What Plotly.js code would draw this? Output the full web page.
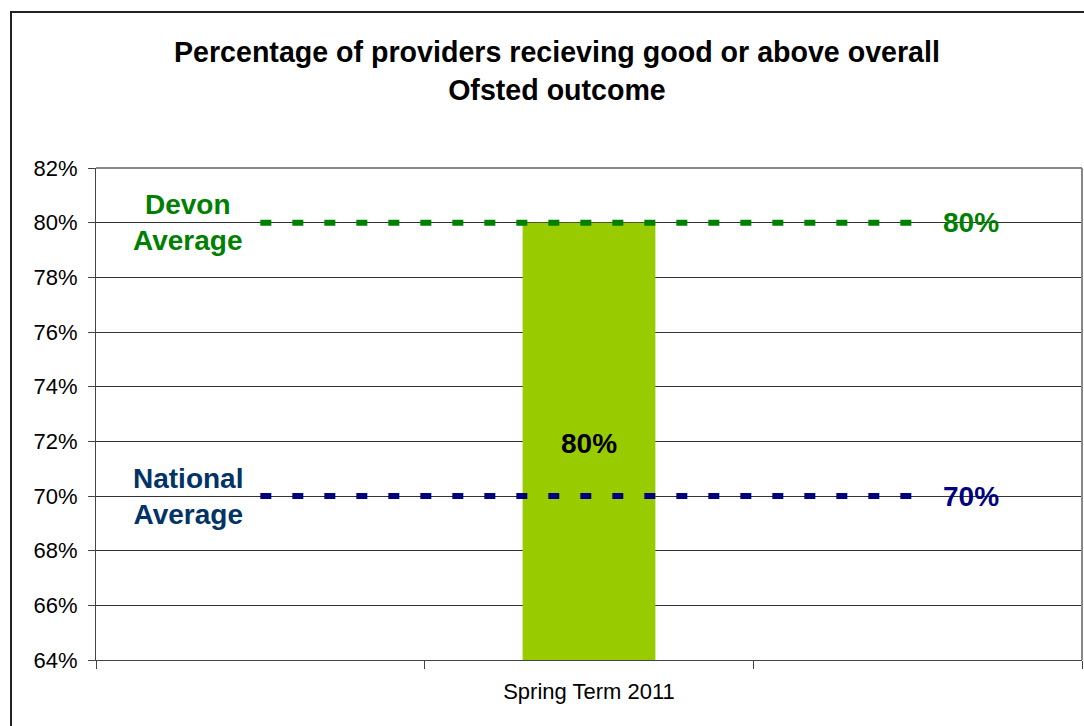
<!DOCTYPE html>
<html>
<head>
<meta charset="utf-8">
<script src="https://cdn.plot.ly/plotly-3.0.1.min.js"></script>
<style>html,body{margin:0;padding:0;background:#fff;}#chart{width:1084px;height:726px;}</style>
</head>
<body>
<div id="chart"></div>
<script>
// Data
const categories = [" ", "Spring Term 2011", "  "];
const barValues = [null, 80, null];
const devonAverage = 80;
const nationalAverage = 70;
const devonLabel = "Devon<br>Average";
const nationalLabel = "National<br>Average";
const titleText = "Percentage of providers recieving good or above overall<br>Ofsted outcome";
const yTickVals = [64, 66, 68, 70, 72, 74, 76, 78, 80, 82];

const font = "Arial, 'Liberation Sans', sans-serif";
const yMin = yTickVals[0], yMax = yTickVals[yTickVals.length - 1];

const traces = [
  {
    type: "bar",
    x: categories,
    y: barValues,
    width: 0.404,
    marker: {color: "#99CC00", line: {width: 0}},
    hoverinfo: "skip",
    showlegend: false
  },
  {
    type: "scatter",
    mode: "lines",
    x: categories,
    y: categories.map(() => devonAverage),
    line: {color: "#008000", width: 6, dash: "11px,21px"},
    hoverinfo: "skip",
    showlegend: false
  },
  {
    type: "scatter",
    mode: "lines",
    x: categories,
    y: categories.map(() => nationalAverage),
    line: {color: "#000080", width: 6, dash: "11px,21px"},
    hoverinfo: "skip",
    showlegend: false
  }
];

// bar value labels, centred on the visible part of each bar
const barLabels = categories.map((c, i) => barValues[i] == null ? null : {
  xref: "x", yref: "y", x: c, y: (yMin + barValues[i]) / 2 - 0.08,
  text: barValues[i] + "%", showarrow: false, xanchor: "center", yanchor: "middle",
  font: {family: font, size: 28, color: "#000000", weight: "bold"}
}).filter(a => a);

const layout = {
  width: 1084,
  height: 726,
  margin: {l: 96, r: 2, t: 168, b: 66},
  paper_bgcolor: "#ffffff",
  plot_bgcolor: "#ffffff",
  font: {family: font, color: "#000000"},
  showlegend: false,
  title: {
    text: titleText,
    font: {family: font, size: 28.6, color: "#000000", weight: "bold"},
    xref: "paper", x: 0.4675, xanchor: "center",
    yref: "container", y: 0.914, yanchor: "middle"
  },
  xaxis: {
    type: "category",
    categoryorder: "array",
    categoryarray: categories,
    range: [-0.5, 2.5],
    tickson: "boundaries",
    ticks: "outside",
    ticklen: 8,
    tickcolor: "#444",
    tickfont: {family: font, size: 22, color: "#000000"},
    ticklabelstandoff: 12,
    showline: true,
    linecolor: "#444",
    linewidth: 1,
    mirror: false,
    showgrid: false,
    zeroline: false,
    fixedrange: true
  },
  yaxis: {
    range: [yMin, yMax],
    tickvals: yTickVals,
    ticktext: yTickVals.map(v => v + "%"),
    ticks: "outside",
    ticklen: 7,
    tickcolor: "#444",
    tickfont: {family: font, size: 22, color: "#000000"},
    ticklabelstandoff: 6,
    showline: true,
    linecolor: "#444",
    linewidth: 1,
    showgrid: true,
    gridcolor: "#333",
    gridwidth: 1,
    zeroline: false,
    fixedrange: true
  },
  shapes: [
    {type: "line", xref: "paper", yref: "paper", x0: 1, x1: 1, y0: 0, y1: 1, line: {color: "#888", width: 2}},
    {type: "line", xref: "paper", yref: "paper", x0: 0, x1: 1, y0: 1, y1: 1, line: {color: "#888", width: 2}},
    {type: "rect", xref: "paper", yref: "paper", x0: -0.0862, x1: 1.2, y0: -0.3, y1: 1.317, line: {color: "#222", width: 2}, fillcolor: "rgba(0,0,0,0)", layer: "above"}
  ],
  annotations: barLabels.concat([
    {xref: "paper", yref: "y", x: 0.0933, y: devonAverage, text: devonLabel, showarrow: false, xanchor: "center", yanchor: "middle",
     font: {family: font, size: 28, color: "#008000", weight: "bold"}},
    {xref: "paper", yref: "y", x: 0.0933, y: nationalAverage, text: nationalLabel, showarrow: false, xanchor: "center", yanchor: "middle",
     font: {family: font, size: 28, color: "#003366", weight: "bold"}},
    {xref: "paper", yref: "y", x: 0.8874, y: devonAverage, text: devonAverage + "%", showarrow: false, xanchor: "center", yanchor: "middle",
     font: {family: font, size: 28, color: "#008000", weight: "bold"}},
    {xref: "paper", yref: "y", x: 0.8874, y: nationalAverage, text: nationalAverage + "%", showarrow: false, xanchor: "center", yanchor: "middle",
     font: {family: font, size: 28, color: "#000080", weight: "bold"}}
  ])
};

Plotly.newPlot("chart", traces, layout, {displayModeBar: false, staticPlot: true});
</script>
</body>
</html>
